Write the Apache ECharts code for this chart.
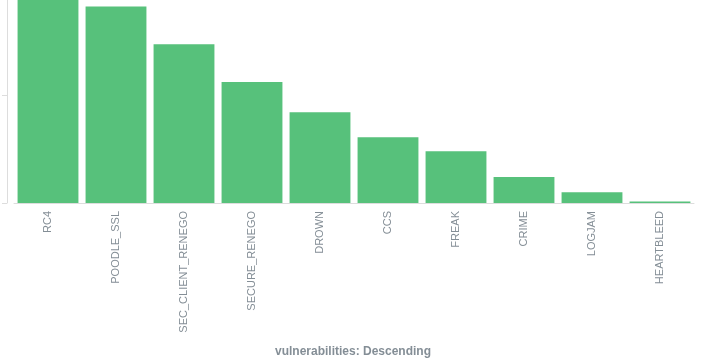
<!DOCTYPE html>
<html>
<head>
<meta charset="utf-8">
<script src="https://cdn.jsdelivr.net/npm/echarts@6/dist/echarts.min.js"></script>
<style>
html,body{margin:0;padding:0;background:#fff;}
#chart{width:706px;height:363px;}
</style>
</head>
<body>
<div id="chart"></div>
<script>
var categories = ["RC4","POODLE_SSL","SEC_CLIENT_RENEGO","SECURE_RENEGO","DROWN","CCS","FREAK","CRIME","LOGJAM","HEARTBLEED"];
var counts = [205, 182, 147, 112, 84, 61, 48, 24, 10, 1.4];
var yTicks = [0, 100];
var yVisibleMax = 188;
var axisTitle = "vulnerabilities: Descending";

var chart = echarts.init(document.getElementById('chart'), null, {renderer:'canvas'});
chart.setOption({
  animation: false,
  title: {
    text: axisTitle,
    left: 'center',
    top: 341,
    textStyle: {fontFamily: 'Liberation Sans, Arial, sans-serif', fontSize: 12, fontWeight: 'bold', color: '#848e96'}
  },
  grid: {left: 14, right: 12, top: 0, bottom: 160, containLabel: false},
  xAxis: {
    type: 'category',
    data: categories,
    axisLine: {lineStyle: {color: '#dddddd', width: 1}},
    axisTick: {alignWithLabel: true, length: 5, lineStyle: {color: '#dddddd'}},
    axisLabel: {rotate: 90, margin: 8, fontSize: 11, color: '#848e96', fontFamily: 'Liberation Sans, Arial, sans-serif'}
  },
  yAxis: {
    type: 'value',
    min: 0,
    max: yVisibleMax,
    interval: 100,
    offset: 7,
    axisLine: {show: true, lineStyle: {color: '#dddddd'}},
    axisTick: {show: true, length: 5, customValues: yTicks, lineStyle: {color: '#dddddd'}},
    axisLabel: {show: false},
    splitLine: {show: false}
  },
  series: [{
    type: 'bar',
    data: counts,
    clip: true,
    barCategoryGap: '10.5%',
    itemStyle: {color: '#57c17b'}
  }]
});
</script>
</body>
</html>
